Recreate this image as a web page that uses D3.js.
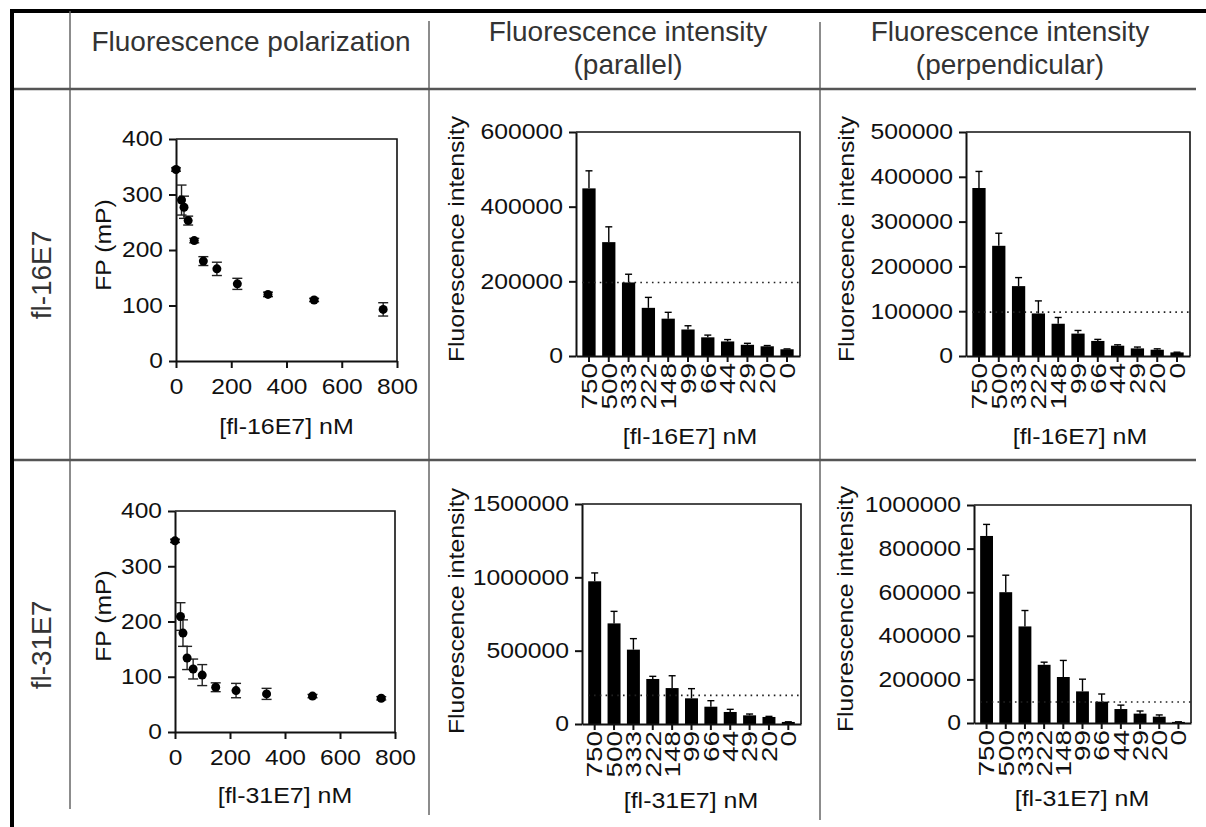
<!DOCTYPE html>
<html>
<head>
<meta charset="utf-8">
<script src="https://cdn.jsdelivr.net/npm/d3@7"></script>
<style>
  body { margin: 0; background: #fff; }
  svg { display: block; font-family: "Liberation Sans", Arial, sans-serif; }
</style>
</head>
<body>
<svg id="fig" width="1206" height="827"></svg>
<script>
// concentrations (nM) for the FP scatter plots
const concentrations = [0, 20, 29, 44, 66, 99, 148, 222, 333, 500, 750];
const fp16Mean = [345, 290, 277, 253, 217, 180, 166, 139, 120, 110, 93];
const fp16Err  = [3, 27, 20, 8, 4, 8, 12, 10, 4, 3, 12];
const fp31Mean = [346, 209, 179, 134, 114, 103, 81, 75, 69, 65, 61];
const fp31Err  = [3, 25, 24, 21, 18, 19, 8, 13, 10, 3, 3];
const fpYTicks = [0, 100, 200, 300, 400];
const fpXTicks = [0, 200, 400, 600, 800];

// bar charts, in the order drawn (high to low concentration)
const barLabels = ['750', '500', '333', '222', '148', '99', '66', '44', '29', '20', '0'];
const par16Mean  = [449000, 305000, 197000, 129000, 100000, 71000, 50000, 39000, 30000, 26000, 18000];
const par16Err   = [47000, 41000, 22000, 28000, 17000, 10000, 6000, 5000, 4000, 2000, 1000];
const perp16Mean = [375000, 246000, 156000, 95000, 72000, 50000, 33600, 23000, 17000, 14000, 8000];
const perp16Err  = [37000, 28000, 19000, 28000, 14000, 7000, 3500, 2000, 3000, 2000, 500];
const par31Mean  = [973000, 686000, 507000, 307000, 245000, 175000, 118000, 82000, 59000, 48000, 14000];
const par31Err   = [57000, 82000, 75000, 18000, 84000, 66000, 41000, 18000, 9000, 4000, 1000];
const perp31Mean = [858000, 600000, 443000, 267000, 211000, 145000, 98000, 64000, 43000, 29000, 5000];
const perp31Err  = [53000, 78000, 73000, 12000, 76000, 56000, 35000, 18000, 12000, 8000, 500];
const par16Cutoff = 197000, perp16Cutoff = 98000, par31Cutoff = 195000, perp31Cutoff = 96000;
const par16Ticks  = [0, 200000, 400000, 600000];
const perp16Ticks = [0, 100000, 200000, 300000, 400000, 500000];
const par31Ticks  = [0, 500000, 1000000, 1500000];
const perp31Ticks = [0, 200000, 400000, 600000, 800000, 1000000];

const svg = d3.select('#fig');
const ink = '#111';
const chartFont = 21.5;

// prism text is drawn wide along its baseline
function stretch(sel, k) {
    sel.each(function () {
        const w = this.getComputedTextLength();
        d3.select(this).attr('textLength', w * k).attr('lengthAdjust', 'spacingAndGlyphs');
    });
}

function styleAxis(g) {
    g.attr('font-size', chartFont).attr('font-family', null);
    g.select('.domain').attr('stroke', ink).attr('stroke-width', 2);
    g.selectAll('.tick line').attr('stroke', ink).attr('stroke-width', 2);
    g.selectAll('.tick text').attr('fill', ink);
}

function yTitle(g, text, x, y) {
    g.append('text')
        .attr('transform', `translate(${x},${y}) rotate(-90)`)
        .attr('dy', '0.35em')
        .attr('text-anchor', 'middle')
        .attr('font-size', chartFont)
        .attr('fill', ink)
        .text(text)
        .call(stretch, 1.15);
}

function xTitle(g, text, x, y) {
    g.append('text')
        .attr('x', x).attr('y', y)
        .attr('text-anchor', 'middle')
        .attr('font-size', chartFont)
        .attr('fill', ink)
        .text(text)
        .call(stretch, 1.16);
}

function frame(g, c) {
    g.append('path')
        .attr('d', `M${c.x0},${c.y0}H${c.x1}V${c.y1}`)
        .attr('fill', 'none').attr('stroke', ink).attr('stroke-width', 1.6);
}

function drawScatter(c) {
    const x = d3.scaleLinear().domain([0, 800]).range([c.x0, c.x1]);
    const y = d3.scaleLinear().domain([0, 400]).range([c.y1, c.y0]);
    const g = svg.append('g');
    frame(g, c);

    g.append('g').attr('transform', `translate(${c.x0},0)`)
        .call(d3.axisLeft(y).tickValues(fpYTicks).tickSize(7).tickSizeOuter(0).tickPadding(6).tickFormat(d3.format('d')))
        .call(styleAxis)
        .selectAll('.tick text').call(stretch, 1.14);
    g.append('g').attr('transform', `translate(0,${c.y1})`)
        .call(d3.axisBottom(x).tickValues(fpXTicks).tickSize(7).tickSizeOuter(0).tickPadding(11).tickFormat(d3.format('d')))
        .call(styleAxis)
        .selectAll('.tick text').call(stretch, 1.14);

    const pts = concentrations.map((cc, i) => ({ c: cc, m: c.mean[i], e: c.err[i] }));
    const eb = g.append('g').attr('stroke', '#222').attr('stroke-width', 1.4);
    pts.forEach(p => {
        const cx = x(p.c);
        eb.append('line').attr('x1', cx).attr('x2', cx).attr('y1', y(p.m - p.e)).attr('y2', y(p.m + p.e));
        eb.append('line').attr('x1', cx - 5).attr('x2', cx + 5).attr('y1', y(p.m - p.e)).attr('y2', y(p.m - p.e));
        eb.append('line').attr('x1', cx - 5).attr('x2', cx + 5).attr('y1', y(p.m + p.e)).attr('y2', y(p.m + p.e));
    });
    g.selectAll('circle.pt').data(pts).enter().append('circle')
        .attr('cx', d => x(d.c)).attr('cy', d => y(d.m)).attr('r', 4.5).attr('fill', '#000');

    yTitle(g, 'FP (mP)', 103, c.ty);
    xTitle(g, c.xlabel, (c.x0 + c.x1) / 2, c.xy);
}

function drawBars(c) {
    const x = d3.scaleBand().domain(barLabels).range([c.x0, c.x1]).paddingInner(0.33).paddingOuter(0.32);
    const y = d3.scaleLinear().domain([0, c.max]).range([c.y1, c.y0]);
    const g = svg.append('g');
    frame(g, c);

    const rows = barLabels.map((k, i) => ({ k: k, m: c.mean[i], e: c.err[i] }));
    g.selectAll('rect.bar').data(rows).enter().append('rect')
        .attr('x', d => x(d.k)).attr('width', x.bandwidth())
        .attr('y', d => y(d.m)).attr('height', d => y(0) - y(d.m))
        .attr('fill', '#000');

    const eb = g.append('g').attr('stroke', '#000').attr('stroke-width', 1.4);
    rows.forEach(d => {
        const cx = x(d.k) + x.bandwidth() / 2;
        eb.append('line').attr('x1', cx).attr('x2', cx).attr('y1', y(d.m)).attr('y2', y(d.m + d.e));
        eb.append('line').attr('x1', cx - 3.5).attr('x2', cx + 3.5).attr('y1', y(d.m + d.e)).attr('y2', y(d.m + d.e));
    });

    g.append('line')
        .attr('x1', x(barLabels[0])).attr('x2', c.x1)
        .attr('y1', y(c.cutoff)).attr('y2', y(c.cutoff))
        .attr('stroke', '#222').attr('stroke-width', 1.6).attr('stroke-dasharray', '1.6,4.2');

    g.append('g').attr('transform', `translate(${c.x0},0)`)
        .call(d3.axisLeft(y).tickValues(c.ticks).tickSize(7).tickSizeOuter(0).tickPadding(6).tickFormat(d3.format('d')))
        .call(styleAxis)
        .selectAll('.tick text').call(stretch, 1.15);
    const xa = g.append('g').attr('transform', `translate(0,${c.y1})`)
        .call(d3.axisBottom(x).tickSize(6).tickSizeOuter(0))
        .call(styleAxis);
    xa.selectAll('.tick text')
        .attr('transform', 'rotate(-90)')
        .attr('x', -7).attr('y', 0).attr('dy', '0.36em')
        .attr('text-anchor', 'end')
        .call(stretch, 1.3);

    yTitle(g, 'Fluorescence intensity', c.tx, c.ty);
    xTitle(g, c.xlabel, c.xlx, c.xly);
}

// table frame
svg.append('line').attr('x1', 10).attr('x2', 1206).attr('y1', 11).attr('y2', 11).attr('stroke', '#000').attr('stroke-width', 4);
svg.append('line').attr('x1', 12).attr('x2', 12).attr('y1', 9).attr('y2', 827).attr('stroke', '#000').attr('stroke-width', 4);
[[70, 11, 809], [429, 21, 815], [820, 22, 820]].forEach(v => {
    svg.append('line').attr('x1', v[0]).attr('x2', v[0]).attr('y1', v[1]).attr('y2', v[2])
        .attr('stroke', '#666').attr('stroke-width', 1.5);
});
[89, 460].forEach(h => {
    svg.append('line').attr('x1', 14).attr('x2', 1196).attr('y1', h).attr('y2', h)
        .attr('stroke', '#555').attr('stroke-width', 2.5);
});

// headers
const head = svg.append('g').attr('font-size', 28).attr('fill', '#333').attr('text-anchor', 'middle');
head.append('text').attr('x', 251).attr('y', 51).text('Fluorescence polarization');
head.append('text').attr('x', 628).attr('y', 41).text('Fluorescence intensity');
head.append('text').attr('x', 628).attr('y', 74).text('(parallel)');
head.append('text').attr('x', 1010).attr('y', 41).text('Fluorescence intensity');
head.append('text').attr('x', 1010).attr('y', 74).text('(perpendicular)');
head.append('text').attr('transform', 'translate(41,275) rotate(-90)').attr('dy', '0.35em').text('fl-16E7');
head.append('text').attr('transform', 'translate(41,645) rotate(-90)').attr('dy', '0.35em').text('fl-31E7');

drawScatter({ x0: 176, x1: 397, y0: 139, y1: 361, mean: fp16Mean, err: fp16Err, ty: 245, xlabel: '[fl-16E7] nM', xy: 434 });
drawScatter({ x0: 175, x1: 395, y0: 511, y1: 732, mean: fp31Mean, err: fp31Err, ty: 616, xlabel: '[fl-31E7] nM', xy: 803 });

drawBars({ x0: 576, x1: 800, y0: 132, y1: 356, max: 600000, ticks: par16Ticks, mean: par16Mean, err: par16Err,
           cutoff: par16Cutoff, tx: 456, ty: 239, xlabel: '[fl-16E7] nM', xlx: 690, xly: 444 });
drawBars({ x0: 966, x1: 1190, y0: 132, y1: 356, max: 500000, ticks: perp16Ticks, mean: perp16Mean, err: perp16Err,
           cutoff: perp16Cutoff, tx: 846, ty: 239, xlabel: '[fl-16E7] nM', xlx: 1080, xly: 444 });
drawBars({ x0: 582, x1: 801, y0: 504, y1: 724, max: 1500000, ticks: par31Ticks, mean: par31Mean, err: par31Err,
           cutoff: par31Cutoff, tx: 456, ty: 611, xlabel: '[fl-31E7] nM', xlx: 691, xly: 808 });
drawBars({ x0: 974, x1: 1191, y0: 505, y1: 723, max: 1000000, ticks: perp31Ticks, mean: perp31Mean, err: perp31Err,
           cutoff: perp31Cutoff, tx: 845, ty: 609, xlabel: '[fl-31E7] nM', xlx: 1082, xly: 806 });
</script>
</body>
</html>
